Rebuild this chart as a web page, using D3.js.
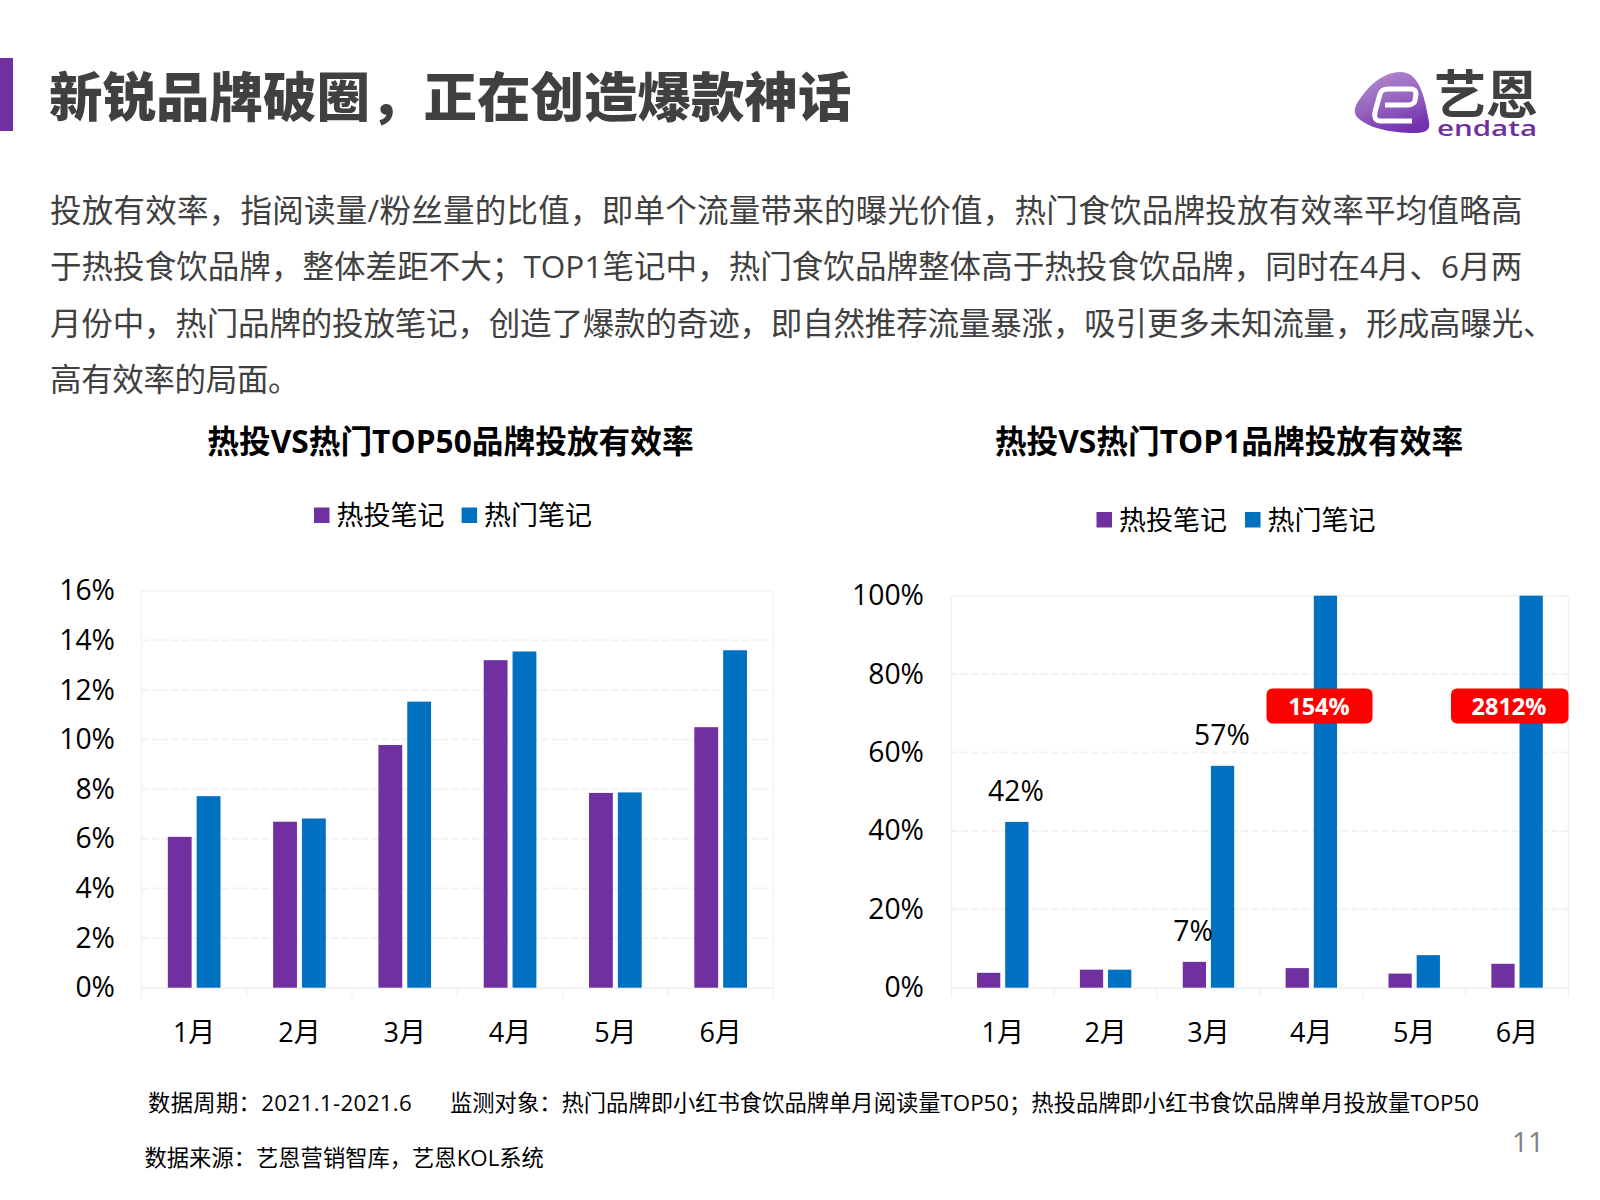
<!DOCTYPE html>
<html>
<head>
<meta charset="utf-8">
<script src="https://cdn.jsdelivr.net/npm/d3@7"></script>
<style>
  html, body { margin: 0; background: #fff; }
  svg { display: block; }
  text { font-family: "Open Sans", "Noto Sans CJK SC", sans-serif; }
</style>
</head>
<body>
<svg id="page" width="1600" height="1200"></svg>
<script>
const months = ["1月", "2月", "3月", "4月", "5月", "6月"];
const seriesNames = ["热投笔记", "热门笔记"];

const top50Hot = [6.08, 6.69, 9.78, 13.2, 7.85, 10.5];
const top50Popular = [7.72, 6.82, 11.53, 13.55, 7.87, 13.6];
const top50Ticks = [0, 2, 4, 6, 8, 10, 12, 14, 16];

const top1Hot = [3.8, 4.6, 6.6, 5.0, 3.6, 6.1];
const top1Popular = [42.3, 4.6, 56.6, 154, 8.3, 2812];
const top1Ticks = [0, 20, 40, 60, 80, 100];

const titleText = "新锐品牌破圈，正在创造爆款神话";
const bodyLines = [
  "投放有效率，指阅读量/粉丝量的比值，即单个流量带来的曝光价值，热门食饮品牌投放有效率平均值略高",
  "于热投食饮品牌，整体差距不大；TOP1笔记中，热门食饮品牌整体高于热投食饮品牌，同时在4月、6月两",
  "月份中，热门品牌的投放笔记，创造了爆款的奇迹，即自然推荐流量暴涨，吸引更多未知流量，形成高曝光、",
  "高有效率的局面。"
];
const bodyTracking = [0.26, 0.06, -0.16, -0.35];

const purple = "#7030a0";
const blue = "#0070c0";
const gridColor = "#f2f2f2";

const svg = d3.select("#page");

svg.append("rect").attr("x", 0).attr("y", 58).attr("width", 13).attr("height", 73).attr("fill", purple);

svg.append("text").attr("x", 49).attr("y", 117)
  .attr("font-size", 53.5).attr("font-weight", 900).attr("fill", "#404040")
  .text(titleText);

svg.selectAll("text.body").data(bodyLines).join("text")
  .attr("class", "body")
  .attr("x", 50)
  .attr("y", (d, i) => 222 + i * 56.3)
  .attr("font-size", 31.5).attr("fill", "#404040")
  .attr("letter-spacing", (d, i) => bodyTracking[i])
  .text(d => d);

/* one grouped bar panel */
function drawPanel(opt) {
  const { left, right, top, bottom, domainMax, ticks, hot, popular } = opt;
  const x = d3.scaleBand().domain(months).range([left, right]);
  const x1 = d3.scaleBand().domain(seriesNames)
    .range([x.bandwidth() * 0.25, x.bandwidth() * 0.75]).paddingInner(0.174);
  // the y scale is clamped: two bars run past the top of the axis
  const y = d3.scaleLinear().domain([0, domainMax]).range([bottom, top]).clamp(true);

  const g = svg.append("g");

  g.append("g").selectAll("line").data(ticks.slice(1, -1)).join("line")
    .attr("x1", left).attr("x2", right)
    .attr("y1", d => y(d)).attr("y2", d => y(d))
    .attr("stroke", gridColor).attr("stroke-width", 2).attr("stroke-dasharray", "7 3");

  g.append("path")
    .attr("d", `M${left},${bottom}V${top}H${right}V${bottom}`)
    .attr("fill", "none").attr("stroke", gridColor).attr("stroke-width", 1.5);

  const yAxis = d3.axisLeft(y).tickValues(ticks).tickFormat(d => d + "%").tickSize(0).tickPadding(left - opt.labelX);
  const yG = g.append("g").attr("transform", `translate(${left},0)`).call(yAxis);
  yG.select(".domain").remove();
  yG.selectAll("text").attr("font-size", 28.3).attr("fill", "#000")
    .style("font-family", '"Open Sans", "Noto Sans CJK SC", sans-serif');

  const xAxis = d3.axisBottom(x).tickSize(0).tickPadding(0);
  const xG = g.append("g").attr("transform", `translate(0,${bottom})`).call(xAxis);
  xG.select(".domain").attr("stroke", gridColor).attr("stroke-width", 2);
  xG.selectAll("text").attr("font-size", 27).attr("fill", "#000").attr("y", 54).attr("dy", 0)
    .style("font-family", '"Open Sans", "Noto Sans CJK SC", sans-serif');

  // tick marks sit on the band edges, not the band centres
  g.append("g").selectAll("line").data(d3.range(months.length + 1)).join("line")
    .attr("x1", d => left + d * x.step()).attr("x2", d => left + d * x.step())
    .attr("y1", bottom).attr("y2", bottom + 10)
    .attr("stroke", gridColor).attr("stroke-width", 1.5);

  [[seriesNames[0], hot, purple], [seriesNames[1], popular, blue]].forEach(([name, vals, color]) => {
    g.append("g").selectAll("rect").data(vals).join("rect")
      .attr("x", (d, i) => x(months[i]) + x1(name))
      .attr("width", x1.bandwidth())
      .attr("y", d => y(d))
      .attr("height", d => bottom - y(d))
      .attr("fill", color);
  });

  // legend
  const lg = g.append("g");
  [purple, blue].forEach((color, i) => {
    lg.append("rect").attr("x", opt.legendX[i]).attr("y", opt.legendY - 7.5)
      .attr("width", 15.5).attr("height", 15.5).attr("fill", color);
    lg.append("text").attr("x", opt.legendX[i] + 22.5).attr("y", opt.legendY + 10)
      .attr("font-size", 27).attr("fill", "#000").text(seriesNames[i]);
  });

  g.append("text").attr("x", opt.titleX).attr("y", 453)
    .attr("text-anchor", "middle").attr("font-size", 31.7).attr("font-weight", 700).attr("fill", "#000")
    .text(opt.title);
}

drawPanel({
  left: 141.5, right: 773.3, top: 590.7, bottom: 987.7, domainMax: 16, ticks: top50Ticks,
  hot: top50Hot, popular: top50Popular, labelX: 115,
  legendX: [314, 461.6], legendY: 515,
  title: "热投VS热门TOP50品牌投放有效率", titleX: 450.5
});

drawPanel({
  left: 951.3, right: 1568.5, top: 595.7, bottom: 987.7, domainMax: 100, ticks: top1Ticks,
  hot: top1Hot, popular: top1Popular, labelX: 924,
  legendX: [1096.5, 1245], legendY: 519.5,
  title: "热投VS热门TOP1品牌投放有效率", titleX: 1229
});

// plain value labels
const plainLabels = [
  { text: "42%", x: 1016, y: 801 },
  { text: "57%", x: 1222, y: 745 },
  { text: "7%", x: 1193, y: 941 }
];
svg.selectAll("text.vlabel").data(plainLabels).join("text")
  .attr("class", "vlabel").attr("text-anchor", "middle").attr("font-size", 28.3).attr("fill", "#000")
  .attr("x", d => d.x).attr("y", d => d.y).text(d => d.text);

// red callouts for the two off-scale bars
const badges = [
  { text: "154%", x: 1266.5, w: 106, tx: 1319 },
  { text: "2812%", x: 1451, w: 117.5, tx: 1509 }
];
badges.forEach(b => {
  svg.append("rect").attr("x", b.x).attr("y", 688.5).attr("width", b.w).attr("height", 35)
    .attr("rx", 6).attr("fill", "#ff0000");
  svg.append("text").attr("x", b.tx).attr("y", 715).attr("text-anchor", "middle")
    .attr("font-size", 23.5).attr("font-weight", 700).attr("fill", "#fff").text(b.text);
});

// footer
const footer = [
  { text: "数据周期：2021.1-2021.6", x: 148, y: 1111, track: 0.35 },
  { text: "监测对象：热门品牌即小红书食饮品牌单月阅读量TOP50；热投品牌即小红书食饮品牌单月投放量TOP50", x: 450, y: 1111, track: 0 },
  { text: "数据来源：艺恩营销智库，艺恩KOL系统", x: 144.5, y: 1166, track: 0 }
];
svg.selectAll("text.foot").data(footer).join("text")
  .attr("class", "foot").attr("font-size", 22.3).attr("fill", "#000")
  .attr("letter-spacing", d => d.track)
  .attr("x", d => d.x).attr("y", d => d.y).text(d => d.text);

svg.append("text").attr("x", 1512).attr("y", 1152).attr("font-size", 28).attr("fill", "#808080").text("11");

// logo
const defs = svg.append("defs");
const lgrad = defs.append("linearGradient").attr("id", "logoFill")
  .attr("x1", 0.2).attr("y1", 0).attr("x2", 0.6).attr("y2", 1);
lgrad.append("stop").attr("offset", 0).attr("stop-color", "#b48ad0");
lgrad.append("stop").attr("offset", 0.55).attr("stop-color", "#9462bd");
lgrad.append("stop").attr("offset", 1).attr("stop-color", "#7030b0");
const logo = svg.append("g");
logo.append("path")
  .attr("d", "M1400,72 C1418,72 1424,92 1429,122 C1431,131 1424,133 1414,133 C1392,133 1368,128 1358,118 C1352,112 1355,105 1362,96 C1372,82 1386,72 1400,72 Z")
  .attr("fill", "url(#logoFill)");
logo.append("path")
  .attr("d", "M1385,105 L1408,105 C1413,105 1415,102 1415,100 L1416,94 C1416,91 1414,89 1411,89 L1388,89 C1383,89 1381,91 1380,94 L1375,112 C1374,118 1376,121 1380,121 L1412,121")
  .attr("fill", "none").attr("stroke", "#fff").attr("stroke-width", 5).attr("stroke-linejoin", "round");
logo.append("text").attr("x", 1434).attr("y", 114).attr("font-size", 52).attr("font-weight", 700)
  .attr("fill", "#404040").text("艺恩");
logo.append("text").attr("x", 1437).attr("y", 136).attr("font-size", 21).attr("font-weight", 600).attr("fill", "#7030a0")
  .attr("textLength", 100).attr("lengthAdjust", "spacingAndGlyphs").text("endata");
</script>
</body>
</html>
